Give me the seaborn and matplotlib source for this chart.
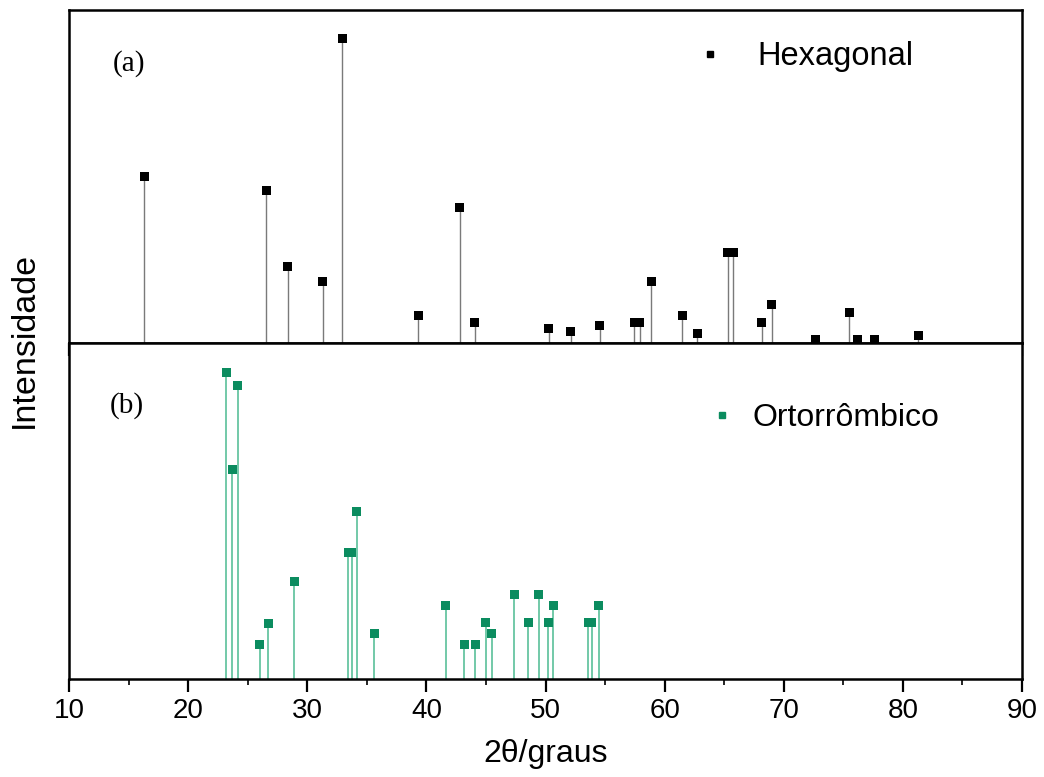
import matplotlib
matplotlib.use("Agg")
import matplotlib.pyplot as plt
import seaborn as sns
import pandas as pd
from matplotlib.ticker import MultipleLocator, NullLocator
from matplotlib.lines import Line2D

# ---- data ----
hex_2theta = [16.30, 26.54, 28.38, 31.32, 32.92, 39.30, 42.82, 44.08, 50.29, 52.14,
              54.57, 57.43, 57.93, 58.86, 61.46, 62.72, 65.32, 65.74, 68.17, 69.01,
              72.70, 75.50, 76.15, 77.58, 81.27]
hex_int = [54.9, 50.0, 25.0, 20.1, 100.0, 8.9, 44.7, 6.6, 4.9, 3.9,
           5.9, 6.9, 6.9, 20.1, 8.9, 3.0, 29.9, 29.9, 6.9, 12.8,
           1.3, 9.9, 1.0, 1.0, 2.6]

ort_2theta = [23.18, 23.71, 24.16, 26.03, 26.73, 28.89, 33.45, 33.73, 34.14, 35.63,
              41.62, 43.18, 44.11, 45.00, 45.48, 47.36, 48.56, 49.45, 50.24, 50.63,
              53.60, 53.88, 54.46]
ort_int = [100.0, 68.2, 95.5, 11.4, 18.2, 31.8, 41.2, 41.2, 54.5, 14.9,
           24.0, 11.4, 11.4, 18.5, 14.9, 27.6, 18.5, 27.6, 18.5, 24.0,
           18.5, 18.5, 24.0]

x_ticks = [10, 20, 30, 40, 50, 60, 70, 80, 90]
labels = ["Hexagonal", "Ortorrômbico"]

hex_df = pd.DataFrame({"x": hex_2theta, "y": hex_int})
ort_df = pd.DataFrame({"x": ort_2theta, "y": ort_int})

sns.set_style("white")
plt.rcParams["font.family"] = ["Liberation Sans", "DejaVu Sans"]
plt.rcParams["text.color"] = "black"
plt.rcParams["axes.labelcolor"] = "black"
plt.rcParams["xtick.color"] = "black"
plt.rcParams["ytick.color"] = "black"

fig = plt.figure(figsize=(10.44, 7.77), dpi=100)
L, R = 69 / 1044, 1022 / 1044
top_t, mid, bot = 1 - 10 / 777, 1 - 343 / 777, 1 - 679 / 777
ax1 = fig.add_axes([L, mid, R - L, top_t - mid])
ax2 = fig.add_axes([L, bot, R - L, mid - bot], sharex=ax1)

hex_color = "black"
hex_stem = "#7a7a7a"
ort_color = "#0b8c5f"
ort_stem = "#72c9a8"

# top panel
ax1.vlines(hex_df["x"], 0, hex_df["y"], color=hex_stem, lw=1.0, zorder=2)
sns.scatterplot(data=hex_df, x="x", y="y", ax=ax1, marker="s", s=42,
                color=hex_color, edgecolor="none", zorder=3, legend=False)
# bottom panel
ax2.vlines(ort_df["x"], 0, ort_df["y"], color=ort_stem, lw=1.4, zorder=2)
sns.scatterplot(data=ort_df, x="x", y="y", ax=ax2, marker="s", s=42,
                color=ort_color, edgecolor="none", zorder=3, legend=False)

for ax in (ax1, ax2):
    ax.set_xlim(10, 90)
    ax.set_ylim(0, 109.5)
    ax.set_xlabel("")
    ax.set_ylabel("")
    ax.yaxis.set_major_locator(NullLocator())
    ax.xaxis.set_major_locator(MultipleLocator(10))
    ax.xaxis.set_minor_locator(MultipleLocator(5))
    ax.tick_params(axis="x", which="major", direction="out", length=9, width=1.6,
                   color="black", bottom=True, top=False)
    ax.tick_params(axis="x", which="minor", direction="out", length=4.3, width=1.2,
                   color="black", bottom=True, top=False)
    for sp in ax.spines.values():
        sp.set_visible(True)
        sp.set_color("black")
        sp.set_linewidth(1.8)

ax1.tick_params(axis="x", labelbottom=False)
ax2.tick_params(axis="x", labelsize=20, pad=5, labelcolor="black")
ax2.set_xticks(x_ticks)
ax2.set_xlabel("2θ/graus", fontsize=23, color="black")
ax2.xaxis.set_label_coords(0.5, -0.178)

# legends
h1 = [Line2D([], [], ls="none", marker="s", ms=5.0, color=hex_color)]
ax1.legend(h1, [labels[0]], loc="center left", bbox_to_anchor=(0.655, 0.859),
           frameon=False, fontsize=23.5, handlelength=1.0, handletextpad=0.97,
           borderpad=0, borderaxespad=0, labelcolor="black")
h2 = [Line2D([], [], ls="none", marker="s", ms=5.0, color=ort_color)]
ax2.legend(h2, [labels[1]], loc="center left", bbox_to_anchor=(0.668, 0.777),
           frameon=False, fontsize=23, handlelength=1.0, handletextpad=0.47,
           borderpad=0, borderaxespad=0, labelcolor="black")

ax1.text(0.063, 0.84, "(a)", transform=ax1.transAxes, fontsize=21,
         family="Liberation Serif", ha="center", va="center", color="black")
ax2.text(0.061, 0.815, "(b)", transform=ax2.transAxes, fontsize=21,
         family="Liberation Serif", ha="center", va="center", color="black")

fig.text(24 / 1044, 1 - 340 / 777, "Intensidade", rotation=90, fontsize=24.5,
         ha="center", va="center", color="black")

fig.savefig("out.png", dpi=100)
